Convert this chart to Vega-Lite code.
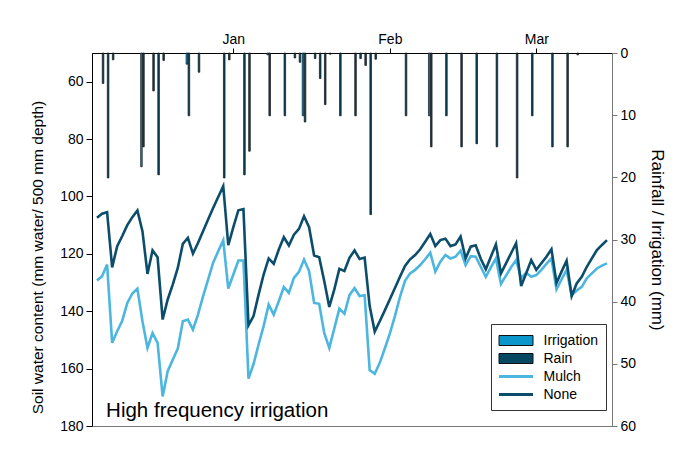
{
  "$schema": "https://vega.github.io/schema/vega-lite/v6.json",
  "width": 520,
  "height": 373,
  "autosize": {"type": "none"},
  "padding": {"left": 92, "top": 53, "right": 71, "bottom": 24},
  "background": "white",
  "config": {
    "font": "Liberation Sans",
    "view": {"stroke": "#777", "strokeWidth": 1},
    "axis": {"labelFont": "Liberation Sans", "titleFont": "Liberation Sans", "labelColor": "black", "titleColor": "black", "titleFontWeight": "normal", "grid": false},
    "legend": {"labelFont": "Liberation Sans", "labelFontSize": 14, "labelColor": "black", "padding": 8, "rowPadding": 2, "symbolOffset": 8.5, "labelOffset": 19, "orient": "none", "legendX": 399, "legendY": 271, "title": null}
  },
  "datasets": {
    "bars": [
      {"date": "2011-12-06", "type": "Rain", "mm": 4.9},
      {"date": "2011-12-07", "type": "Rain", "mm": 20.1},
      {"date": "2011-12-08", "type": "Rain", "mm": 1.1},
      {"date": "2011-12-14", "type": "Irrigation", "mm": 18.3},
      {"date": "2011-12-14", "type": "Rain", "mm": 15.1},
      {"date": "2011-12-16", "type": "Rain", "mm": 6.1},
      {"date": "2011-12-17", "type": "Rain", "mm": 19.6},
      {"date": "2011-12-18", "type": "Rain", "mm": 1.2},
      {"date": "2011-12-23", "type": "Irrigation", "mm": 1.8},
      {"date": "2011-12-23", "type": "Rain", "mm": 10.1},
      {"date": "2011-12-25", "type": "Rain", "mm": 3.1},
      {"date": "2011-12-30", "type": "Rain", "mm": 20.1},
      {"date": "2011-12-31", "type": "Rain", "mm": 1.1},
      {"date": "2012-01-03", "type": "Rain", "mm": 19.6},
      {"date": "2012-01-04", "type": "Rain", "mm": 15.8},
      {"date": "2012-01-08", "type": "Irrigation", "mm": 0.3},
      {"date": "2012-01-08", "type": "Rain", "mm": 10.1},
      {"date": "2012-01-11", "type": "Rain", "mm": 10.1},
      {"date": "2012-01-13", "type": "Rain", "mm": 0.8},
      {"date": "2012-01-14", "type": "Rain", "mm": 1.5},
      {"date": "2012-01-15", "type": "Irrigation", "mm": 10.1},
      {"date": "2012-01-15", "type": "Rain", "mm": 11.1},
      {"date": "2012-01-17", "type": "Rain", "mm": 0.9},
      {"date": "2012-01-18", "type": "Rain", "mm": 4.1},
      {"date": "2012-01-19", "type": "Rain", "mm": 8.3},
      {"date": "2012-01-20", "type": "Rain", "mm": 0.2},
      {"date": "2012-01-22", "type": "Rain", "mm": 10.1},
      {"date": "2012-01-25", "type": "Rain", "mm": 10.1},
      {"date": "2012-01-26", "type": "Rain", "mm": 0.9},
      {"date": "2012-01-27", "type": "Rain", "mm": 2.0},
      {"date": "2012-01-28", "type": "Rain", "mm": 26.0},
      {"date": "2012-01-29", "type": "Rain", "mm": 1.0},
      {"date": "2012-02-04", "type": "Rain", "mm": 10.1},
      {"date": "2012-02-09", "type": "Irrigation", "mm": 10.1},
      {"date": "2012-02-09", "type": "Rain", "mm": 15.1},
      {"date": "2012-02-12", "type": "Rain", "mm": 10.1},
      {"date": "2012-02-15", "type": "Rain", "mm": 15.1},
      {"date": "2012-02-18", "type": "Rain", "mm": 14.6},
      {"date": "2012-02-22", "type": "Rain", "mm": 15.1},
      {"date": "2012-02-26", "type": "Rain", "mm": 20.1},
      {"date": "2012-02-29", "type": "Rain", "mm": 10.1},
      {"date": "2012-03-04", "type": "Rain", "mm": 15.1},
      {"date": "2012-03-07", "type": "Rain", "mm": 15.1},
      {"date": "2012-03-09", "type": "Rain", "mm": 0.3}
    ],
    "swc": [
      {"date": "2011-12-05", "None": 107.4, "Mulch": 129.3},
      {"date": "2011-12-06", "None": 106.0, "Mulch": 127.8},
      {"date": "2011-12-07", "None": 105.5, "Mulch": 123.7},
      {"date": "2011-12-08", "None": 124.7, "Mulch": 151.0},
      {"date": "2011-12-09", "None": 117.3, "Mulch": 147.0},
      {"date": "2011-12-10", "None": 113.8, "Mulch": 143.3},
      {"date": "2011-12-11", "None": 110.0, "Mulch": 137.1},
      {"date": "2011-12-12", "None": 107.2, "Mulch": 133.8},
      {"date": "2011-12-13", "None": 104.9, "Mulch": 132.1},
      {"date": "2011-12-14", "None": 112.1, "Mulch": 143.5},
      {"date": "2011-12-15", "None": 127.0, "Mulch": 152.8},
      {"date": "2011-12-16", "None": 118.8, "Mulch": 147.6},
      {"date": "2011-12-17", "None": 121.2, "Mulch": 151.0},
      {"date": "2011-12-18", "None": 142.9, "Mulch": 169.7},
      {"date": "2011-12-19", "None": 135.9, "Mulch": 160.9},
      {"date": "2011-12-20", "None": 130.7, "Mulch": 156.9},
      {"date": "2011-12-21", "None": 124.9, "Mulch": 153.0},
      {"date": "2011-12-22", "None": 116.5, "Mulch": 143.5},
      {"date": "2011-12-23", "None": 114.4, "Mulch": 142.9},
      {"date": "2011-12-24", "None": 119.9, "Mulch": 146.4},
      {"date": "2011-12-25", "None": 116.2, "Mulch": 141.2},
      {"date": "2011-12-26", "None": 112.1, "Mulch": 134.8},
      {"date": "2011-12-27", "None": 108.0, "Mulch": 129.0},
      {"date": "2011-12-28", "None": 104.0, "Mulch": 123.1},
      {"date": "2011-12-29", "None": 100.2, "Mulch": 119.1},
      {"date": "2011-12-30", "None": 96.4, "Mulch": 115.3},
      {"date": "2011-12-31", "None": 117.0, "Mulch": 132.1},
      {"date": "2012-01-01", "None": 110.7, "Mulch": 127.2},
      {"date": "2012-01-02", "None": 104.8, "Mulch": 122.3},
      {"date": "2012-01-03", "None": 104.4, "Mulch": 122.3},
      {"date": "2012-01-04", "None": 144.9, "Mulch": 163.5},
      {"date": "2012-01-05", "None": 141.7, "Mulch": 158.4},
      {"date": "2012-01-06", "None": 134.2, "Mulch": 151.6},
      {"date": "2012-01-07", "None": 127.2, "Mulch": 145.2},
      {"date": "2012-01-08", "None": 121.6, "Mulch": 137.7},
      {"date": "2012-01-09", "None": 123.5, "Mulch": 141.2},
      {"date": "2012-01-10", "None": 118.5, "Mulch": 136.5},
      {"date": "2012-01-11", "None": 114.2, "Mulch": 131.6},
      {"date": "2012-01-12", "None": 117.1, "Mulch": 133.6},
      {"date": "2012-01-13", "None": 113.3, "Mulch": 128.4},
      {"date": "2012-01-14", "None": 111.3, "Mulch": 126.3},
      {"date": "2012-01-15", "None": 106.9, "Mulch": 122.0},
      {"date": "2012-01-16", "None": 110.7, "Mulch": 126.0},
      {"date": "2012-01-17", "None": 120.6, "Mulch": 137.1},
      {"date": "2012-01-18", "None": 121.2, "Mulch": 137.4},
      {"date": "2012-01-19", "None": 129.5, "Mulch": 147.6},
      {"date": "2012-01-20", "None": 138.5, "Mulch": 152.8},
      {"date": "2012-01-21", "None": 132.4, "Mulch": 146.0},
      {"date": "2012-01-22", "None": 125.2, "Mulch": 139.1},
      {"date": "2012-01-23", "None": 126.0, "Mulch": 140.9},
      {"date": "2012-01-24", "None": 121.4, "Mulch": 134.4},
      {"date": "2012-01-25", "None": 118.8, "Mulch": 131.9},
      {"date": "2012-01-26", "None": 121.8, "Mulch": 134.7},
      {"date": "2012-01-27", "None": 121.3, "Mulch": 134.4},
      {"date": "2012-01-28", "None": 138.2, "Mulch": 160.5},
      {"date": "2012-01-29", "None": 147.1, "Mulch": 161.8},
      {"date": "2012-01-30", "None": 143.5, "Mulch": 158.0},
      {"date": "2012-01-31", "None": 139.7, "Mulch": 153.0},
      {"date": "2012-02-01", "None": 135.8, "Mulch": 147.7},
      {"date": "2012-02-02", "None": 131.9, "Mulch": 141.7},
      {"date": "2012-02-03", "None": 128.0, "Mulch": 135.0},
      {"date": "2012-02-04", "None": 124.2, "Mulch": 129.4},
      {"date": "2012-02-05", "None": 121.9, "Mulch": 126.8},
      {"date": "2012-02-06", "None": 120.4, "Mulch": 125.6},
      {"date": "2012-02-07", "None": 118.4, "Mulch": 123.9},
      {"date": "2012-02-08", "None": 115.8, "Mulch": 121.9},
      {"date": "2012-02-09", "None": 113.1, "Mulch": 119.6},
      {"date": "2012-02-10", "None": 117.3, "Mulch": 126.2},
      {"date": "2012-02-11", "None": 115.2, "Mulch": 122.7},
      {"date": "2012-02-12", "None": 114.7, "Mulch": 120.4},
      {"date": "2012-02-13", "None": 117.3, "Mulch": 121.6},
      {"date": "2012-02-14", "None": 116.7, "Mulch": 121.0},
      {"date": "2012-02-15", "None": 114.0, "Mulch": 118.9},
      {"date": "2012-02-16", "None": 121.6, "Mulch": 123.9},
      {"date": "2012-02-17", "None": 117.5, "Mulch": 120.8},
      {"date": "2012-02-18", "None": 117.0, "Mulch": 121.0},
      {"date": "2012-02-19", "None": 121.7, "Mulch": 124.5},
      {"date": "2012-02-20", "None": 125.4, "Mulch": 128.0},
      {"date": "2012-02-21", "None": 121.0, "Mulch": 124.7},
      {"date": "2012-02-22", "None": 116.7, "Mulch": 121.6},
      {"date": "2012-02-23", "None": 126.8, "Mulch": 130.5},
      {"date": "2012-02-24", "None": 123.3, "Mulch": 127.6},
      {"date": "2012-02-25", "None": 119.8, "Mulch": 124.7},
      {"date": "2012-02-26", "None": 116.3, "Mulch": 122.2},
      {"date": "2012-02-27", "None": 131.2, "Mulch": 128.5},
      {"date": "2012-02-28", "None": 126.8, "Mulch": 126.6},
      {"date": "2012-02-29", "None": 122.2, "Mulch": 128.0},
      {"date": "2012-03-01", "None": 125.6, "Mulch": 127.4},
      {"date": "2012-03-02", "None": 123.3, "Mulch": 125.6},
      {"date": "2012-03-03", "None": 121.0, "Mulch": 123.5},
      {"date": "2012-03-04", "None": 118.4, "Mulch": 121.6},
      {"date": "2012-03-05", "None": 130.1, "Mulch": 132.4},
      {"date": "2012-03-06", "None": 126.2, "Mulch": 128.9},
      {"date": "2012-03-07", "None": 122.4, "Mulch": 125.6},
      {"date": "2012-03-08", "None": 134.7, "Mulch": 134.4},
      {"date": "2012-03-09", "None": 130.3, "Mulch": 132.8},
      {"date": "2012-03-10", "None": 128.0, "Mulch": 131.5},
      {"date": "2012-03-11", "None": 124.5, "Mulch": 128.5},
      {"date": "2012-03-12", "None": 121.6, "Mulch": 126.8},
      {"date": "2012-03-13", "None": 118.7, "Mulch": 125.1},
      {"date": "2012-03-14", "None": 116.9, "Mulch": 124.1},
      {"date": "2012-03-15", "None": 115.2, "Mulch": 123.3}
    ]
  },
  "layer": [
    {
      "data": {"name": "bars"},
      "encoding": {
        "x": {
          "field": "date", "type": "temporal",
          "scale": {"type": "utc", "domain": [{"year": 2011, "month": 12, "date": 5, "utc": true}, {"year": 2012, "month": 3, "date": 15, "utc": true}], "nice": false},
          "axis": {
            "orient": "top", "title": null, "labelExpr": "utcFormat(datum.value, '%b')",
            "values": [{"year": 2012, "month": 1, "date": 1, "utc": true}, {"year": 2012, "month": 2, "date": 1, "utc": true}, {"year": 2012, "month": 3, "date": 1, "utc": true}],
            "labelFontSize": 14, "tickSize": 5, "labelPadding": 2, "domainColor": "black", "tickColor": "black", "labelFlush": false
          }
        },
        "y": {
          "field": "mm", "type": "quantitative",
          "scale": {"domain": [0, 60], "reverse": true, "nice": false},
          "axis": {
            "orient": "right", "title": "Rainfall / Irrigation (mm)", "values": [0, 10, 20, 30, 40, 50, 60],
            "labelFontSize": 14, "titleFontSize": 17, "tickSize": 5, "labelPadding": 3, "titlePadding": 12,
            "domainColor": "#777", "tickColor": "#777"
          }
        },
        "fill": {
          "field": "type", "type": "nominal",
          "scale": {"domain": ["Irrigation", "Rain"], "range": ["#0a96cb", "#064862"]},
          "legend": {
            "symbolType": "M-2.125,-0.625H2.125V0.625H-2.125Z", "symbolSize": 256,
            "symbolStrokeColor": "#111111", "symbolStrokeWidth": 1, "symbolOpacity": 1,
            "labelOpacity": 0
          }
        }
      },
      "layer": [
        {"transform": [{"filter": "datum.type == 'Irrigation'"}], "mark": {"type": "bar", "size": 1.6, "stroke": "#111111", "strokeWidth": 0.7, "xOffset": -1}},
        {"transform": [{"filter": "datum.type == 'Rain'"}], "mark": {"type": "bar", "size": 1.6, "stroke": "#111111", "strokeWidth": 0.7, "xOffset": 1}}
      ]
    },
    {
      "layer": [
        {
          "data": {"name": "swc"},
          "transform": [{"fold": ["Mulch", "None"], "as": ["treatment", "swc"]}],
          "mark": {"type": "line", "strokeWidth": 2.6},
          "encoding": {
            "x": {
              "field": "date", "type": "temporal",
              "axis": {
                "orient": "top", "title": null, "labelExpr": "utcFormat(datum.value, '%b')",
                "values": [{"year": 2012, "month": 1, "date": 1, "utc": true}, {"year": 2012, "month": 2, "date": 1, "utc": true}, {"year": 2012, "month": 3, "date": 1, "utc": true}],
                "labelFontSize": 14, "tickSize": 5, "labelPadding": 2, "domainColor": "black", "tickColor": "black", "labelFlush": false
              }
            },
            "y": {
              "field": "swc", "type": "quantitative",
              "scale": {"domain": [50, 180], "reverse": true, "nice": false, "zero": false},
              "axis": {
                "orient": "left", "title": "Soil water content (mm water/ 500 mm depth)", "values": [60, 80, 100, 120, 140, 160, 180],
                "labelFontSize": 14, "titleFontSize": 15.5, "tickSize": 6, "labelPadding": 3, "titlePadding": 14, "titleY": 204,
                "domainColor": "black", "tickColor": "black"
              }
            },
            "stroke": {
              "field": "treatment", "type": "nominal",
              "scale": {"domain": ["Irrigation", "Rain", "Mulch", "None"], "range": ["transparent", "transparent", "#4db6de", "#0b4d6a"]},
              "legend": {
                "symbolType": "M-2.43,0H2.43", "symbolSize": 196, "symbolStrokeWidth": 3,
                "strokeColor": "#333333", "symbolOpacity": 1
              }
            }
          }
        },
        {
          "data": {"values": [{"label": "High frequency irrigation"}]},
          "mark": {"type": "text", "fontSize": 20.5, "font": "Liberation Sans", "align": "left", "baseline": "alphabetic", "color": "black", "dx": -1},
          "encoding": {
            "text": {"field": "label", "type": "nominal"},
            "x": {"datum": {"year": 2011, "month": 12, "date": 7, "utc": true}, "type": "temporal"},
            "y": {"datum": 177, "type": "quantitative"}
          }
        }
      ]
    }
  ],
  "resolve": {"scale": {"y": "independent"}, "axis": {"y": "independent"}}
}
